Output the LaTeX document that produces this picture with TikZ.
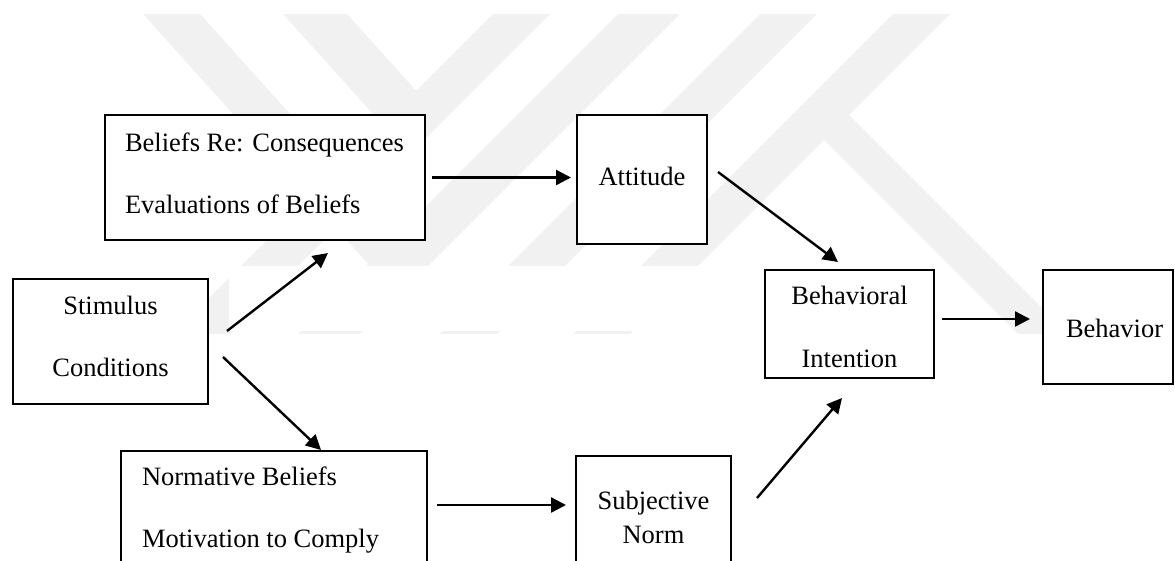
\documentclass[tikz,border=0pt]{standalone}
\usepackage{fontspec}
\setmainfont{Liberation Serif}
\usetikzlibrary{arrows.meta}
\definecolor{wm}{gray}{0.945}
\begin{document}
\begin{tikzpicture}[x=1pt,y=-1pt,
  box/.style={draw=black,line width=2.2pt,fill=white,inner sep=0pt,outer sep=0pt,anchor=north west},
  lbl/.style={inner sep=0pt,outer sep=0pt,font=\fontsize{26.5}{30}\selectfont},
  arr/.style={line width=2.4pt,-{Triangle[length=15pt,width=15pt]}},
  band/.style={fill=wm,draw=none}]
\useasboundingbox (0,0) rectangle (1175,560);
\clip (0,0) rectangle (1175,560);
% watermark
\begin{scope}
  \clip (0,14) rectangle (1175,333);
  % "/" bands
  \fill[band] (493,14) -- (550,14) -- (150,414) -- (93,414) -- cycle;
  \fill[band] (618,14) -- (680,14) -- (280,414) -- (218,414) -- cycle;
  \fill[band] (760,14) -- (817,14) -- (417,414) -- (360,414) -- cycle;
  \fill[band] (893,14) -- (950,14) -- (550,414) -- (493,414) -- cycle;
  % "\" bands
  \fill[band] (283,14) -- (347,14) -- (430,106) -- (396,139.5) -- cycle;
  \fill[band] (143,14) -- (200,14) -- (412.5,250) -- (382.5,280) -- cycle;
  % leg
  \fill[band] (834.75,100.75) -- (1100,366) -- (1050,366) -- (809.75,125.75) -- cycle;
\end{scope}
\fill[white] (229,266) rectangle (760,331);
% boxes
\node[box,minimum width=320pt,minimum height=125pt] (bel) at (105,115) {};
\node[box,minimum width=130pt,minimum height=129pt] (att) at (577,115) {};
\node[box,minimum width=195pt,minimum height=125pt] (stim) at (13,279) {};
\node[box,minimum width=306pt,minimum height=130pt] (norm) at (121,451) {};
\node[box,minimum width=155pt,minimum height=130pt] (subj) at (576,456) {};
\node[box,minimum width=169pt,minimum height=108pt] (bi) at (765,270) {};
\node[box,minimum width=130pt,minimum height=114pt] (beh) at (1043,270) {};
% labels
\node[lbl,anchor=base west] (t1) at (125,151) {Beliefs Re: Consequences};
\node[lbl,anchor=base west] (t2) at (125,213) {Evaluations of Beliefs};
\node[lbl,anchor=base] (t3) at (642,185) {Attitude};
\node[lbl,anchor=base] (t4) at (110.5,314) {Stimulus};
\node[lbl,anchor=base] (t5) at (110.5,376) {Conditions};
\node[lbl,anchor=base west] (t6) at (142,485) {Normative Beliefs};
\node[lbl,anchor=base west] (t7) at (142,547) {Motivation to Comply};
\node[lbl,anchor=base] (t8) at (653.5,509) {Subjective};
\node[lbl,anchor=base] (t9) at (653.5,543) {Norm};
\node[lbl,anchor=base] (t10) at (849.5,304) {Behavioral};
\node[lbl,anchor=base] (t11) at (849.5,367) {Intention};
\node[lbl,anchor=base west] (t12) at (1066,337) {Behavior};
% connector ends
\coordinate (s1) at (227,331);  \coordinate (e1) at (328,253);
\coordinate (s2) at (223,357);  \coordinate (e2) at (321,450);
\coordinate (s3) at (718,172);  \coordinate (e3) at (838,262);
\coordinate (s4) at (757,498);  \coordinate (e4) at (842,398);
% connectors
\draw[arr] ([xshift=7pt]bel.east) -- ([xshift=-6pt]bel.east -| att.west);
\draw[arr] (s1) -- (e1);
\draw[arr] (s2) -- (e2);
\draw[arr] ([xshift=10pt,yshift=-54pt]norm.north east) -- ([xshift=-10pt,yshift=-54pt]norm.north east -| subj.west);
\draw[arr] (s3) -- (e3);
\draw[arr] (s4) -- (e4);
\draw[arr] ([xshift=8pt,yshift=-49pt]bi.north east) -- ([xshift=-13pt,yshift=-49pt]bi.north east -| beh.west);
\end{tikzpicture}
\end{document}
